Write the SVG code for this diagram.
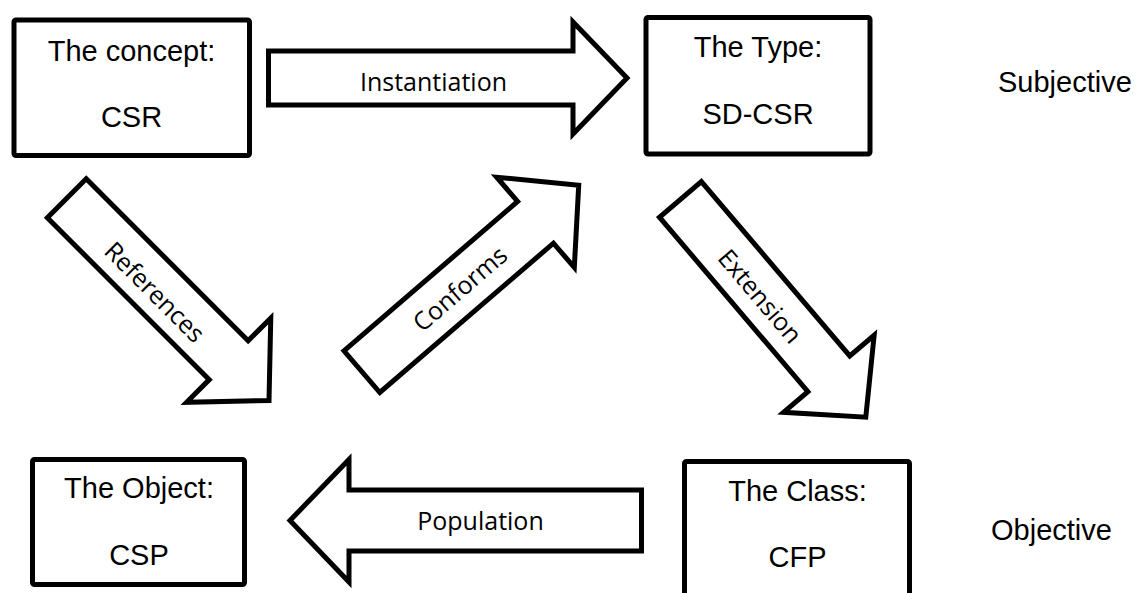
<svg xmlns="http://www.w3.org/2000/svg" width="1139" height="593" viewBox="0 0 1139 593">
<style>
.box{fill:#fff;stroke:#000;stroke-width:5;}
.arrow{fill:#fff;stroke:#000;stroke-width:5;stroke-linejoin:miter;}
.bt{font-family:"Liberation Sans",Arial,sans-serif;font-size:29px;fill:#000;text-anchor:middle;}
.side{font-family:"Liberation Sans",Arial,sans-serif;font-size:29px;fill:#000;}
.at{font-family:"Open Sans","Noto Sans",sans-serif;font-size:25px;fill:#000;text-anchor:middle;}
</style>
<defs>
<polygon id="diag" points="2.5,-27.5 231.5,-27.5 231.5,-59.5 288.5,0 231.5,59.5 231.5,27.5 2.5,27.5"/>
</defs>
<rect width="1139" height="593" fill="#fff"/>
<g id="connectors">
  <g id="instantiation">
    <polygon class="arrow" points="268.5,51 573,51 573,22 627,78 573,134 573,105 268.5,105"/>
    <text class="at" x="433.5" y="90.5">Instantiation</text>
  </g>
  <g id="references" transform="translate(65,196.5) rotate(45)">
    <use href="#diag" class="arrow"/>
    <text class="at" x="131" y="13">References</text>
  </g>
  <g id="conforms" transform="translate(360,373.3) rotate(-40.7)">
    <use href="#diag" class="arrow"/>
    <text class="at" x="131" y="10">Conforms</text>
  </g>
  <g id="extension" transform="translate(678.8,197.5) rotate(49.6)">
    <use href="#diag" class="arrow"/>
    <text class="at" x="128" y="11">Extension</text>
  </g>
  <g id="population">
    <polygon class="arrow" points="641.5,490 349,490 349,459.5 290,520.5 349,582 349,551 641.5,551"/>
    <text class="at" x="480.5" y="530">Population</text>
  </g>
</g>
<g id="concept">
  <rect class="box" x="14" y="20" width="235.5" height="135.5" rx="2"/>
  <text class="bt" x="131.5" y="61">The concept:</text>
  <text class="bt" x="131.5" y="127">CSR</text>
</g>
<g id="type">
  <rect class="box" x="646" y="17.5" width="224" height="136.5" rx="2"/>
  <text class="bt" x="758" y="57">The Type:</text>
  <text class="bt" x="758" y="124">SD-CSR</text>
</g>
<g id="object">
  <rect class="box" x="32.5" y="459.5" width="212" height="125" rx="2"/>
  <text class="bt" x="139" y="498">The Object:</text>
  <text class="bt" x="139" y="565">CSP</text>
</g>
<g id="class">
  <rect class="box" x="684.5" y="461.5" width="225" height="160" rx="2"/>
  <text class="bt" x="797.5" y="501">The Class:</text>
  <text class="bt" x="797.5" y="567">CFP</text>
</g>
<g id="labels">
  <text class="side" x="998" y="92">Subjective</text>
  <text class="side" x="991" y="540">Objective</text>
</g>
</svg>
